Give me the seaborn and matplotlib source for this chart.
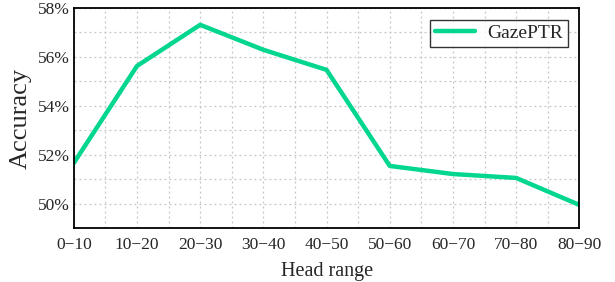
import numpy as np
import pandas as pd
import matplotlib
matplotlib.use("Agg")
import matplotlib.pyplot as plt
import seaborn as sns
from matplotlib.ticker import MultipleLocator, FuncFormatter

# data
head_ranges = ["0\u221210", "10\u221220", "20\u221230", "30\u221240", "40\u221250",
               "50\u221260", "60\u221270", "70\u221280", "80\u221290"]
accuracy = [51.67, 55.63, 57.31, 56.29, 55.47, 51.55, 51.22, 51.06, 49.96]

df = pd.DataFrame({"pos": np.arange(len(head_ranges)), "acc": accuracy, "model": "GazePTR"})

sns.set_theme(style="white")
plt.rcParams["font.family"] = ["Liberation Serif", "DejaVu Serif"]

fig, ax = plt.subplots(figsize=(6.15, 2.82), dpi=100)
sns.lineplot(data=df, x="pos", y="acc", hue="model", palette=["#03d68e"],
             linewidth=3.2, ax=ax)

ax.set_xlim(0, len(head_ranges) - 1)
ax.set_ylim(49, 58)
ax.set_xticks(np.arange(len(head_ranges)))
ax.set_xticklabels(head_ranges, fontsize=12.5)
ax.xaxis.set_minor_locator(MultipleLocator(0.5))
ax.yaxis.set_major_locator(MultipleLocator(2))
ax.yaxis.set_minor_locator(MultipleLocator(1))
ax.yaxis.set_major_formatter(FuncFormatter(lambda v, p: f"{v:.0f}%"))
ax.tick_params(axis="y", labelsize=12.5, length=0, which="both", pad=3)
ax.tick_params(axis="x", direction="in", length=4, width=1.2, which="major", pad=6)
ax.tick_params(axis="x", which="minor", length=0)

ax.grid(True, which="both", linestyle=(0, (1.5, 2.5)), color="#c4c4c4", linewidth=0.9)
for s in ax.spines.values():
    s.set_color("black")
    s.set_linewidth(1.3)

ax.set_xlabel("Head range", fontsize=14.5, labelpad=7)
ax.set_ylabel("Accuracy", fontsize=19, labelpad=4)

leg = ax.legend(loc="upper right", fontsize=14, frameon=True, fancybox=False,
                edgecolor="black", handlelength=2.1, borderpad=0.25,
                handletextpad=0.6, borderaxespad=0.6)
leg.get_frame().set_linewidth(1.0)

fig.subplots_adjust(left=0.12, right=0.942, top=0.972, bottom=0.19)
fig.savefig("out.png", dpi=100)
